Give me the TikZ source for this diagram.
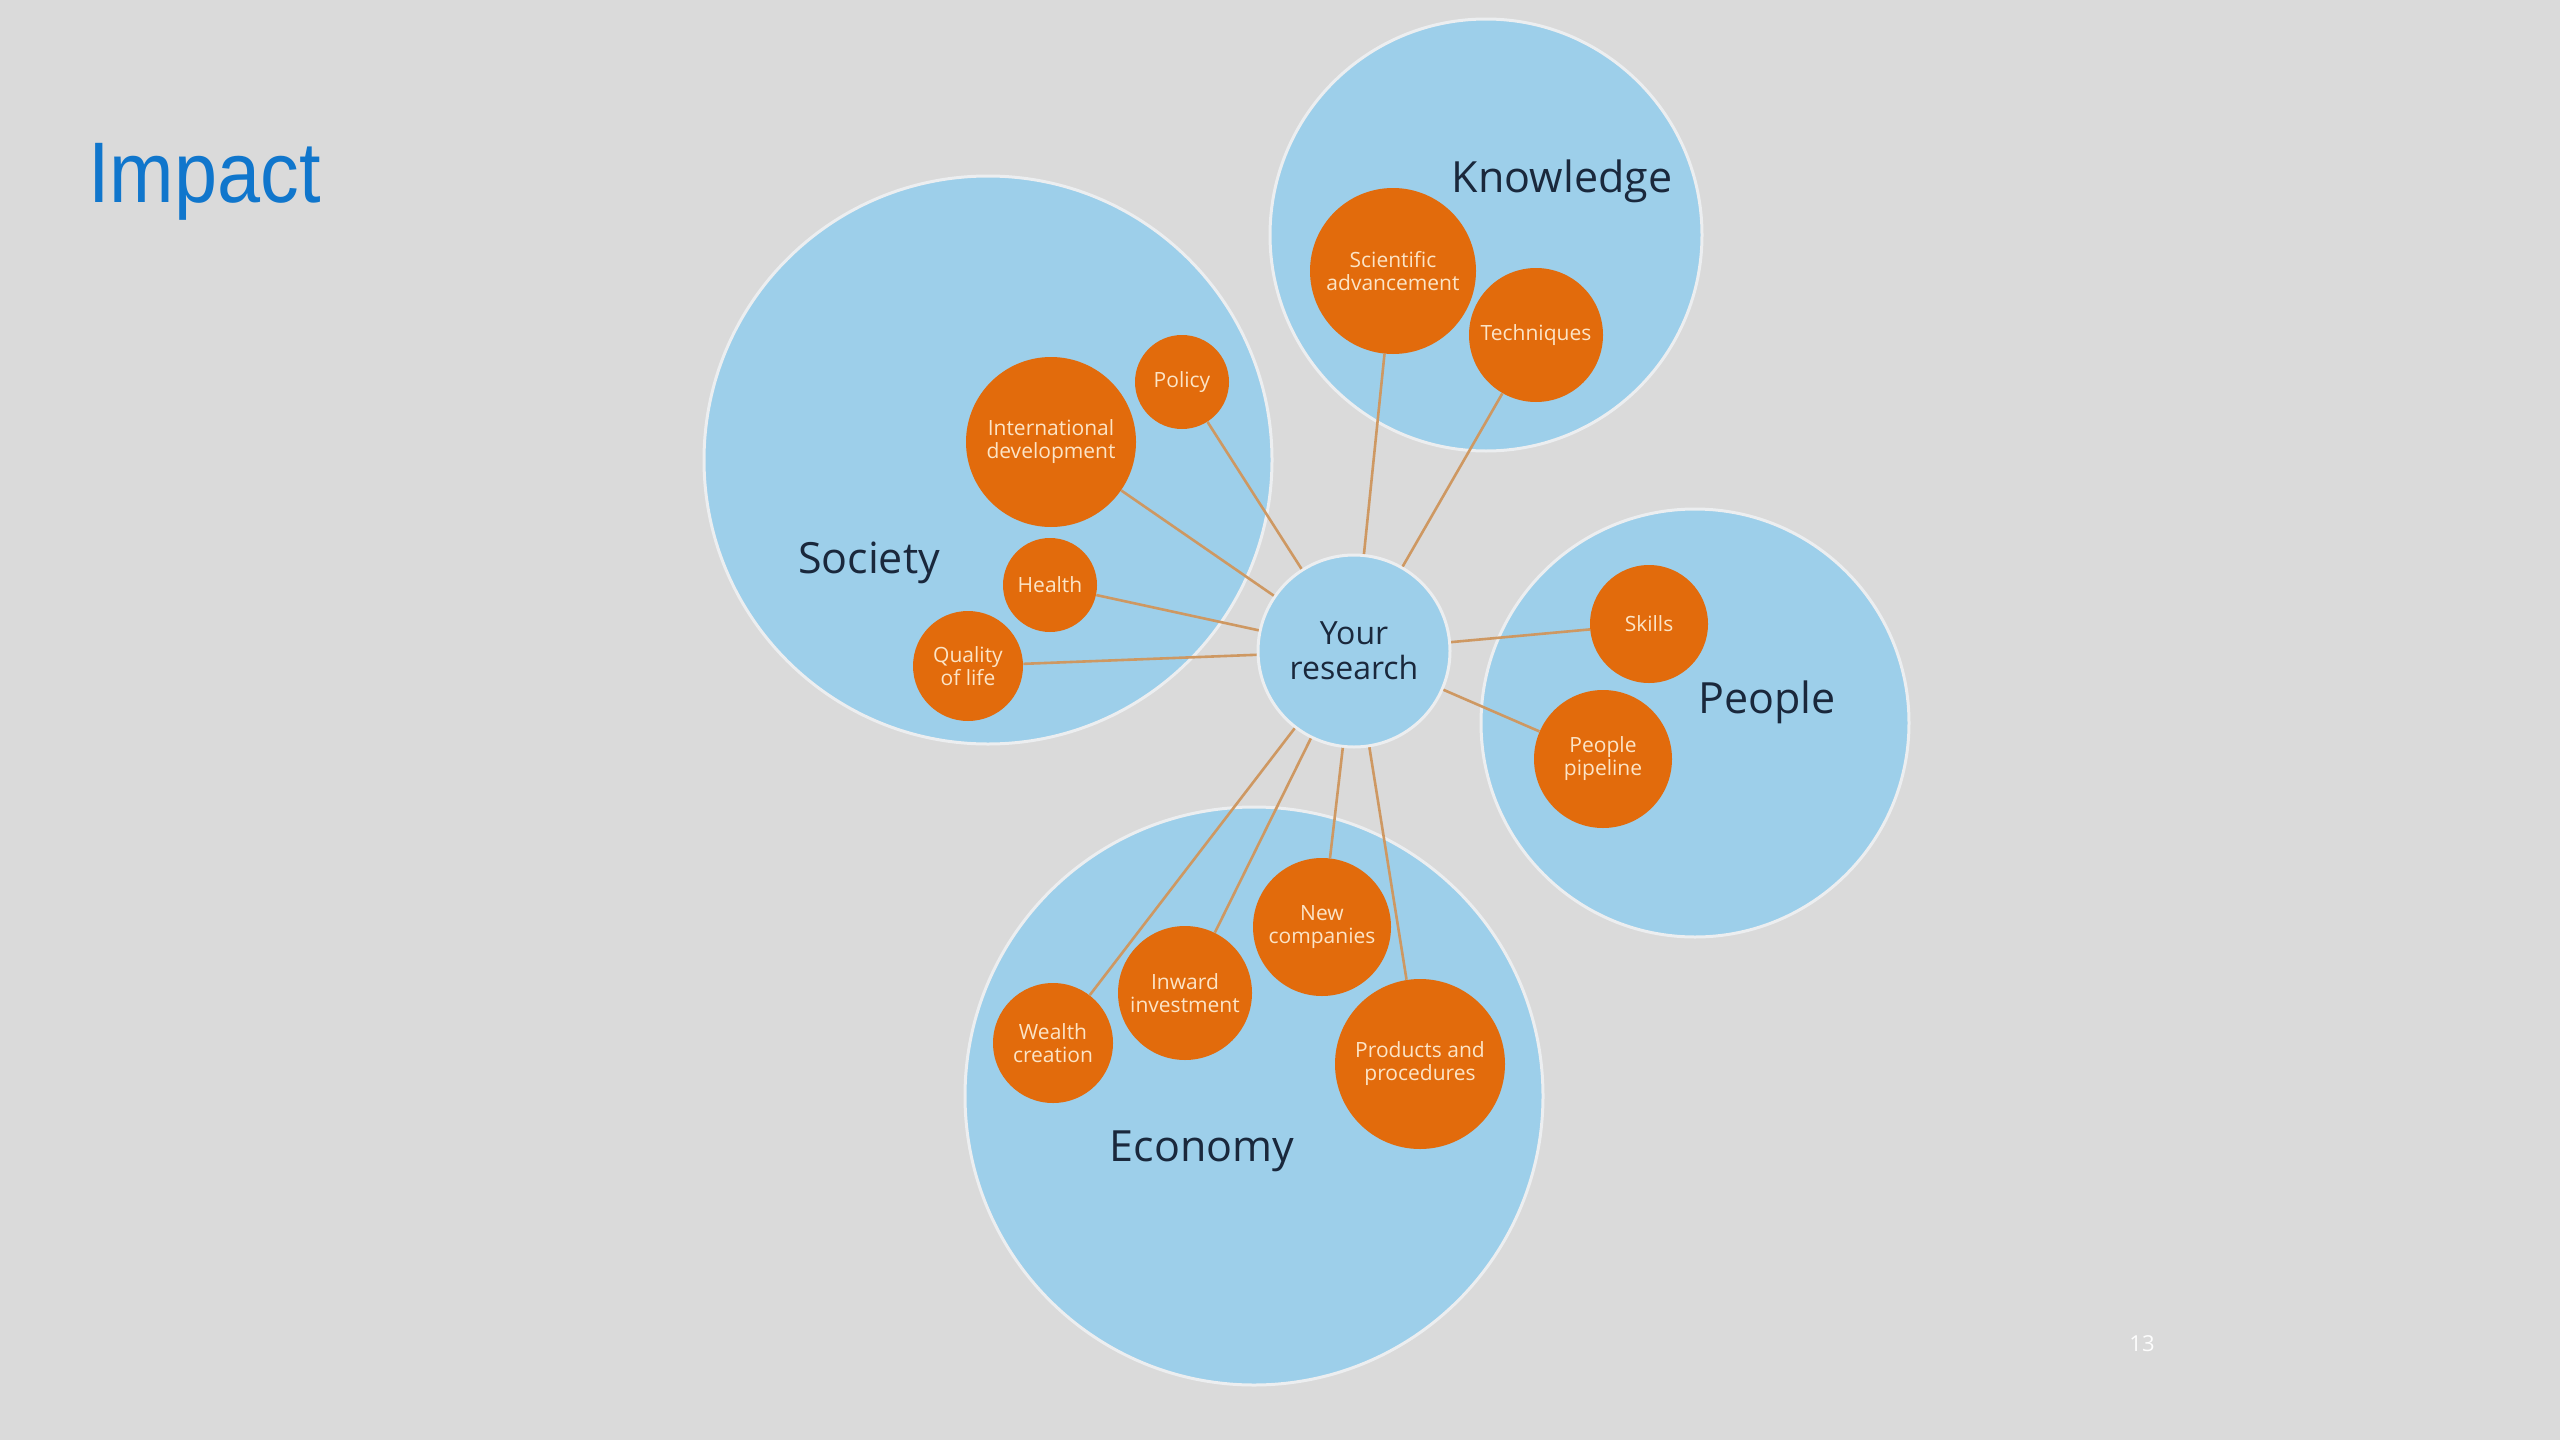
\documentclass[tikz,border=0pt]{standalone}
\usepackage{fontspec}
\setmainfont{Open Sans}
\newfontfamily\titlefont{Liberation Sans}
\usetikzlibrary{positioning}
\definecolor{bggray}{RGB}{218,218,218}
\definecolor{areablue}{RGB}{157,207,234}
\definecolor{areaedge}{RGB}{236,238,240}
\definecolor{topicorange}{RGB}{226,107,12}
\definecolor{topictext}{RGB}{252,228,198}
\definecolor{labelnavy}{RGB}{26,40,60}
\definecolor{linktan}{RGB}{206,152,98}
\definecolor{titleblue}{RGB}{16,118,204}

\begin{document}
\begin{tikzpicture}[x=0.5pt, y=-0.5pt,
  area/.style={circle, fill=areablue, draw=areaedge, line width=1.5pt, inner sep=0pt},
  topic/.style={circle, fill=topicorange, text=topictext, inner sep=0pt, align=center, font=\fontsize{10.5}{11.5}\selectfont},
  heading/.style={text=labelnavy, font=\fontsize{21.5}{25}\selectfont},
  link/.style={draw=linktan, line width=1.3pt}
]
\fill[bggray] (0,0) rectangle (2560,1440);
\useasboundingbox (0,0) rectangle (2560,1440);

\node[anchor=base west, inner sep=0pt, text=titleblue, font=\titlefont\fontsize{43}{48}\selectfont] (title) at (88,202) {\scalebox{0.9}[1]{Impact}};

% the four areas and the centre
\node[area, minimum size=284pt] (society) at (988,460) {};
\node[area, minimum size=216pt] (knowledge) at (1486,235) {};
\node[area, minimum size=214pt] (people) at (1695,723) {};
\node[area, minimum size=289pt] (economy) at (1254,1096) {};
\node[area, minimum size=96pt, text=labelnavy, align=center, font=\fontsize{16}{17.5}\selectfont] (research) at (1354,651) {Your\\research};

\node[heading] (societylabel) at (869,563) {Society};
\node[heading] (knowledgelabel) at (1562,181) {Knowledge};
\node[heading] (peoplelabel) at (1767,702) {People};
\node[heading] (economylabel) at (1202,1151) {Economy};

% knowledge
\node[topic, minimum size=83pt] (sci) at (1393,271) {Scientific\\advancement};
\node[topic, minimum size=67pt] (tech) at (1536,335) {Techniques};
% society
\node[topic, minimum size=47pt] (policy) at (1182,382) {Policy};
\node[topic, minimum size=85pt] (intl) at (1051,442) {International\\development};
\node[topic, minimum size=47pt] (health) at (1050,585) {Health};
\node[topic, minimum size=55pt] (qol) at (968,666) {Quality\\of life};
% people
\node[topic, minimum size=59pt] (skills) at (1649,624) {Skills};
\node[topic, minimum size=69pt] (pipe) at (1603,759) {People\\pipeline};
% economy
\node[topic, minimum size=69pt] (newco) at (1322,927) {New\\companies};
\node[topic, minimum size=67pt] (inward) at (1185,993) {Inward\\investment};
\node[topic, minimum size=60pt] (wealth) at (1053,1043) {Wealth\\creation};
\node[topic, minimum size=85pt] (products) at (1420,1064) {Products and\\procedures};

\draw[link] (sci) -- (research);
\draw[link] (tech) -- (research);
\draw[link] (policy) -- (research);
\draw[link] (intl) -- (research);
\draw[link] (health) -- (research);
\draw[link] (qol) -- (research);
\draw[link] (skills) -- (research);
\draw[link] (pipe) -- (research);
\draw[link] (newco) -- (research);
\draw[link] (inward) -- (research);
\draw[link] (wealth) -- (research);
\draw[link] (products) -- (research);

\node[text=white!95!bggray, font=\fontsize{11}{12}\selectfont] (pagenum) at (2142,1344) {13};
\end{tikzpicture}
\end{document}
